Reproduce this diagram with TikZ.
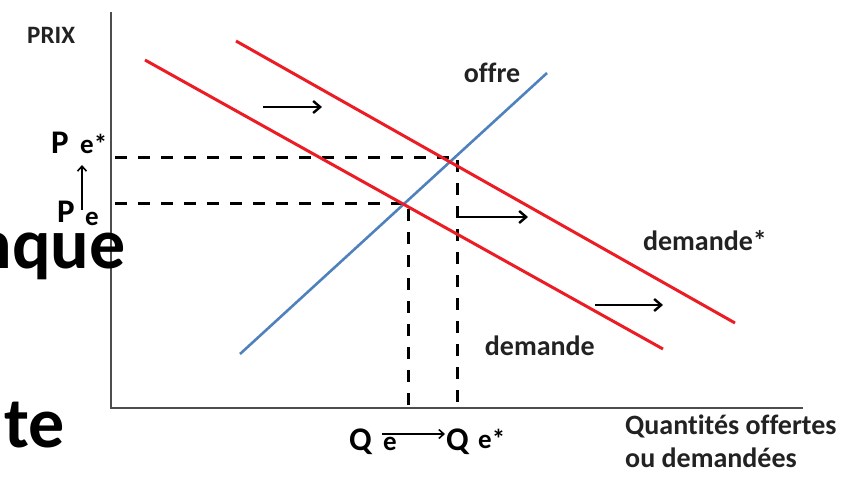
\documentclass[tikz,border=0pt]{standalone}
\usepackage{fontspec}
\setmainfont[Ligatures=NoCommon]{Carlito}
\usetikzlibrary{arrows.meta}
\definecolor{DemandRed}{HTML}{EC1C24}
\definecolor{SupplyBlue}{HTML}{4F81BD}
\definecolor{AxisGrey}{HTML}{4D4D4D}
\definecolor{LabelInk}{HTML}{222222}

\begin{document}
\begin{tikzpicture}[x=1pt,y=-1pt,font=\bfseries,>={Straight Barb[length=7pt,width=12pt]}]
\tikzset{
  axisline/.style={AxisGrey,line width=2.4pt},
  guide/.style={dash pattern=on 12pt off 11pt,line width=3pt},
  demandline/.style={DemandRed,line width=3pt},
  supplyline/.style={SupplyBlue,line width=2.6pt},
  shiftarrow/.style={->,line width=2.4pt},
  smallarrow/.style={-{Straight Barb[length=5pt,width=9pt]},line width=1.6pt},
  lbl/.style={font=\bfseries\fontsize{28}{33}\selectfont,inner sep=0pt,text=LabelInk},
  bigletter/.style={font=\bfseries\fontsize{33}{33}\selectfont,inner sep=0pt},
  subletter/.style={font=\bfseries\fontsize{27}{27}\selectfont,inner sep=0pt},
  slide/.style={font=\bfseries\fontsize{72}{72}\selectfont,inner sep=0pt}
}
\useasboundingbox (0,0) rectangle (848,480);

\coordinate (o) at (111,408);
\coordinate (ytop) at (111,12);
\coordinate (xend) at (803,408);
\draw[axisline] (ytop) -- (o) -- (xend);

\coordinate (eq) at (408,203);
\coordinate (eqs) at (457,157);
\draw[guide] ([xshift=4pt]eqs -| o) -- (eqs) -- (eqs |- o);
\draw[guide] ([xshift=4pt]eq -| o) -- (eq) -- (eq |- o);

\coordinate (s0) at (240,354);
\coordinate (s1) at (547,73);
\coordinate (d0) at (145,60);
\coordinate (d1) at (663,349);
\coordinate (ds0) at (236,41);
\coordinate (ds1) at (735,323);
\draw[supplyline] (s0) -- (s1);
\draw[demandline] (d0) -- (d1);
\draw[demandline] (ds0) -- (ds1);

\coordinate (a1) at (263,107);
\coordinate (b1) at (322,107);
\coordinate (a2) at (457,217);
\coordinate (b2) at (528,217);
\coordinate (a3) at (595,305);
\coordinate (b3) at (663,305);
\draw[shiftarrow] (a1) -- (b1);
\draw[shiftarrow] (a2) -- (b2);
\draw[shiftarrow] (a3) -- (b3);

\node[lbl,font=\bfseries\fontsize{25}{25}\selectfont,anchor=base west] (prix) at (27,43) {PRIX};
\node[lbl,anchor=base] (offre) at (492,82) {offre};
\node[lbl,anchor=base] (dems) at (705,250) {demande*};
\node[lbl,anchor=base east] (dem) at (595,355) {demande};
\node[lbl,anchor=north west,align=left] (qty) at (625,415) {Quantités offertes\\ou demandées};

\node[bigletter,anchor=base west] (pstar) at (51,153) {P};
\node[subletter,anchor=base west] (pestar) at (80,153) {e*};
\node[bigletter,anchor=base west] (p) at (57,222) {P};
\node[subletter,anchor=base west] (pe) at (85,225) {e};
\coordinate (pu0) at (82,210);
\coordinate (pu1) at (82,165);
\draw[smallarrow] (pu0) -- (pu1);

\node[bigletter,anchor=base west] (q) at (349,450) {Q};
\node[subletter,anchor=base west] (qe) at (383,450) {e};
\node[bigletter,anchor=base west] (qs) at (446,450) {Q};
\node[subletter,anchor=base west] (qestar) at (478,448) {e*};
\coordinate (qr0) at (382,434);
\coordinate (qr1) at (445,434);
\draw[smallarrow] (qr0) -- (qr1);

\node[slide,anchor=base east] (nque) at (126,268) {nque};
\node[slide,anchor=base east] (te) at (65,447) {te};
\end{tikzpicture}
\end{document}
